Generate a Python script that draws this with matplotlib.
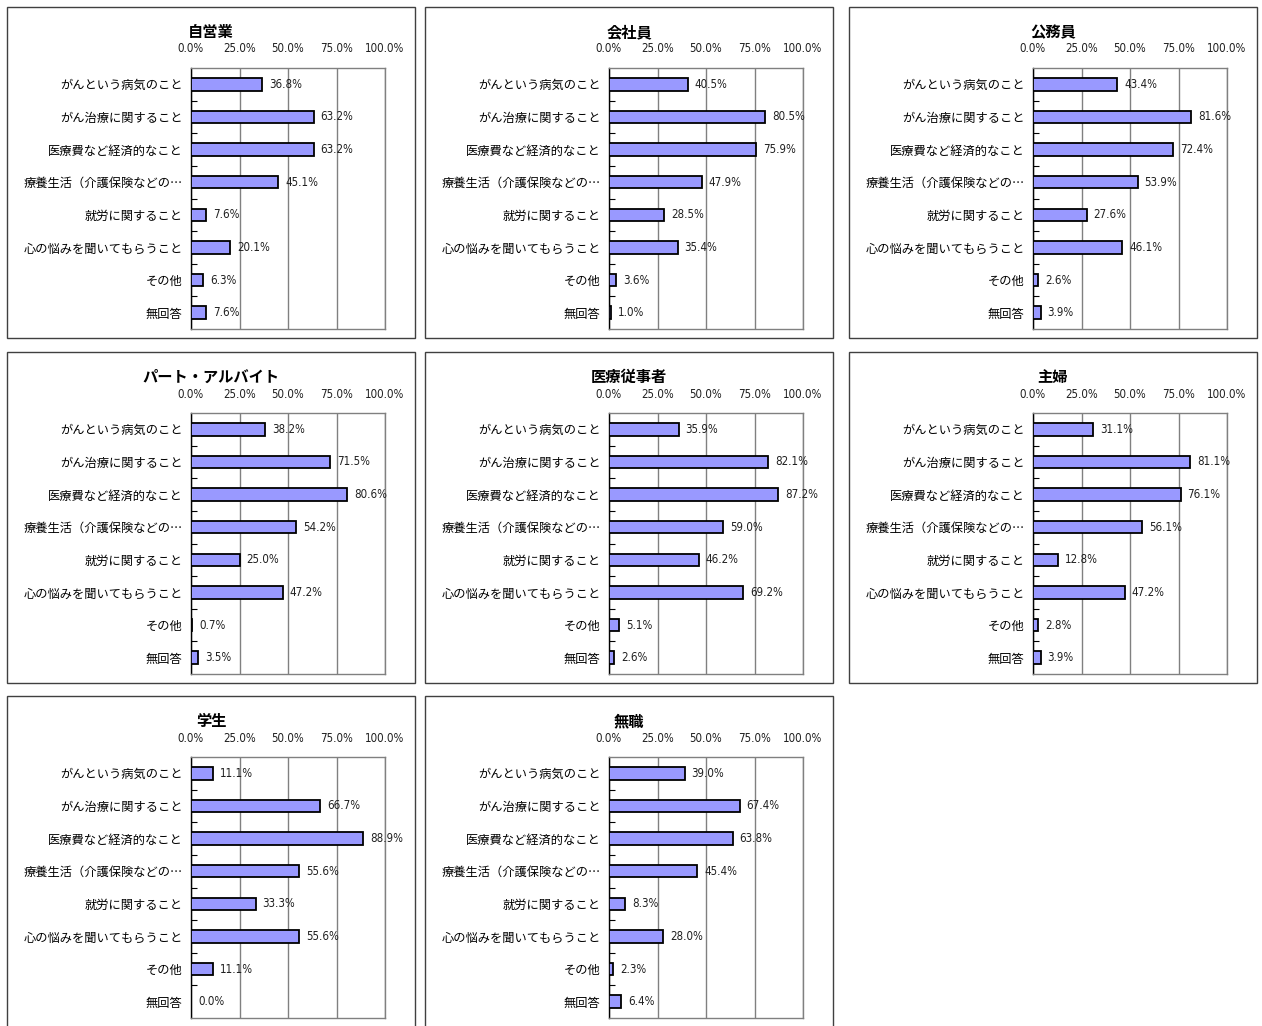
import matplotlib
matplotlib.use("Agg")
import matplotlib.pyplot as plt
from matplotlib.patches import Rectangle
from matplotlib.ticker import FixedLocator, FuncFormatter

plt.rcParams['font.family'] = ['Noto Sans CJK JP', 'DejaVu Sans']

categories = ["がんという病気のこと", "がん治療に関すること", "医療費など経済的なこと",
              "療養生活（介護保険などの…", "就労に関すること", "心の悩みを聞いてもらうこと",
              "その他", "無回答"]

groups = ["自営業", "会社員", "公務員", "パート・アルバイト", "医療従事者", "主婦", "学生", "無職"]

self_employed = [36.8, 63.2, 63.2, 45.1, 7.6, 20.1, 6.3, 7.6]
company_employee = [40.5, 80.5, 75.9, 47.9, 28.5, 35.4, 3.6, 1.0]
civil_servant = [43.4, 81.6, 72.4, 53.9, 27.6, 46.1, 2.6, 3.9]
part_time = [38.2, 71.5, 80.6, 54.2, 25.0, 47.2, 0.7, 3.5]
medical_worker = [35.9, 82.1, 87.2, 59.0, 46.2, 69.2, 5.1, 2.6]
homemaker = [31.1, 81.1, 76.1, 56.1, 12.8, 47.2, 2.8, 3.9]
student = [11.1, 66.7, 88.9, 55.6, 33.3, 55.6, 11.1, 0.0]
unemployed = [39.0, 67.4, 63.8, 45.4, 8.3, 28.0, 2.3, 6.4]

series = [self_employed, company_employee, civil_servant, part_time,
          medical_worker, homemaker, student, unemployed]

x_ticks = [0, 25, 50, 75, 100]

W, H = 1262, 1026
fig = plt.figure(figsize=(W / 100, H / 100), dpi=100)

box_left = [7, 425, 849]
box_top = [7, 352, 696]
box_w, box_h = 408, 331

num_font = ['DejaVu Sans']
bar_color = '#9999FF'
grid_color = '#808080'

for i, (name, vals) in enumerate(zip(groups, series)):
    r, c = divmod(i, 3)
    bx, by = box_left[c], box_top[r]

    # outer panel frame
    fig.patches.append(Rectangle((bx / W, 1 - (by + box_h) / H), box_w / W, box_h / H,
                                 transform=fig.transFigure, fill=False,
                                 edgecolor='#404040', linewidth=1.0))

    # title
    fig.text((bx + box_w / 2) / W, 1 - (by + 25) / H, name, ha='center', va='center',
             fontsize=11, fontweight='bold')

    ax_l, ax_t, ax_w, ax_h = bx + 184, by + 61, 194, 261
    ax = fig.add_axes([ax_l / W, 1 - (ax_t + ax_h) / H, ax_w / W, ax_h / H])
    n = len(categories)
    y = list(range(n))
    lws = [1.3 if v > 0 else 0 for v in vals]
    ax.barh(y, vals, height=0.38, color=bar_color, edgecolor='black', linewidth=lws, zorder=3)
    for yi, v in zip(y, vals):
        ax.annotate(f"{v:.1f}%", (v, yi), xytext=(5, 0), textcoords='offset points',
                    ha='left', va='center', fontsize=8.3, family=num_font,
                    fontstretch='condensed', color='#202020', zorder=4)

    ax.set_xlim(0, 100)
    ax.set_ylim(n - 0.5, -0.5)
    ax.xaxis.set_major_locator(FixedLocator(x_ticks))
    ax.xaxis.set_major_formatter(FuncFormatter(lambda v, p: f"{v:.1f}%"))
    ax.xaxis.tick_top()
    ax.tick_params(axis='x', length=0, pad=9, labelsize=8.3, colors='#202020')
    for lab in ax.get_xticklabels():
        lab.set_family(num_font)
        lab.set_fontstretch('condensed')
    ax.grid(axis='x', color=grid_color, linewidth=1.0, zorder=0)

    ax.set_yticks(y)
    ax.set_yticklabels(categories, fontsize=8.8)
    ax.tick_params(axis='y', which='major', length=0, pad=6)
    ax.set_yticks([k + 0.5 for k in range(n - 1)], minor=True)
    ax.tick_params(axis='y', which='minor', direction='in', length=4, width=0.8, color='black')

    for side in ['top', 'right', 'bottom']:
        ax.spines[side].set_color(grid_color)
        ax.spines[side].set_linewidth(1.0)
    ax.spines['left'].set_color('black')
    ax.spines['left'].set_linewidth(1.0)

fig.savefig("out.png", dpi=100, facecolor='white')
